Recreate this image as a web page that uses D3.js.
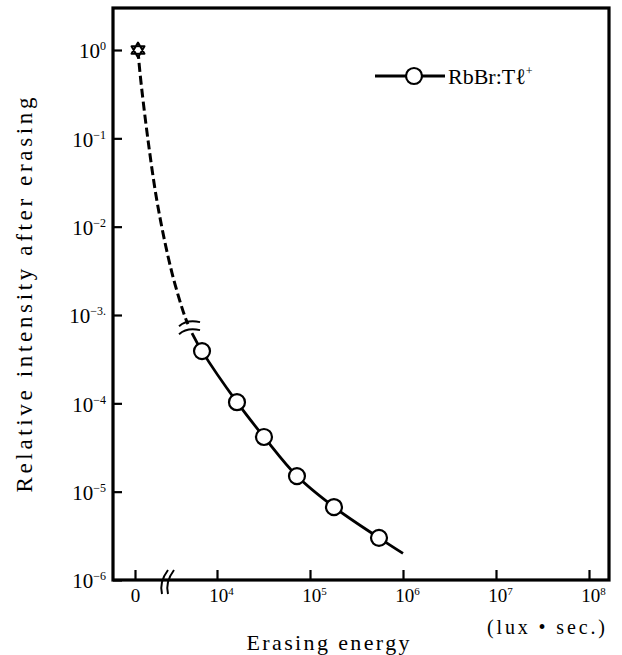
<!DOCTYPE html>
<html><head><meta charset="utf-8">
<script src="https://cdn.jsdelivr.net/npm/d3@7"></script>
<style>body{margin:0;background:#fff}svg{display:block}</style>
</head><body>
<svg id="c" width="622" height="655"></svg>
<script>
// ---- data ----
const yTickExps = [0, -1, -2, -3, -4, -5, -6];
const xTickExps = [4, 5, 6, 7, 8];
const seriesName = "RbBr:Tℓ";
const seriesCharge = "+";
// measured points (open circles)
const circleE = [6900, 16400, 32000, 72400, 181000, 552000];
const circleI = [3.9e-4, 1.03e-4, 4.16e-5, 1.5e-5, 6.7e-6, 3.0e-6];
// solid fitted curve (after the break)
const solidE = [5380, 6900, 16400, 32000, 72400, 181000, 552000, 1000000];
const solidI = [6.25e-4, 3.9e-4, 1.03e-4, 4.16e-5, 1.5e-5, 6.7e-6, 3.0e-6, 2.0e-6];
// dashed extrapolation from the unerased start
const dashE = [268, 446, 1160, 2053, 3280, 4530, 4870];
const dashI = [1, 0.55, 0.096, 0.0167, 0.0030, 9.5e-4, 7.9e-4];
const startE = 268, startI = 1;
const breakE = 5130, breakI = 7.1e-4;

// ---- layout ----
const L = 113, T = 8, R = 609, B = 580;
const svg = d3.select("#c");
const serif = "'Liberation Serif','Times New Roman',serif";

const xLog = d3.scaleLog().domain([1e4, 1e8]).range([217, 589]);
const Eb = xLog.invert(170);
const xLin = d3.scaleLinear().domain([0, Eb]).range([135, 170]);
const x = e => (e <= Eb ? xLin(e) : xLog(e));
const y = d3.scaleLog().domain([1e-6, 1]).range([B, 50]);

const expStr = e => (e < 0 ? "−" + (-e) : String(e));

// ---- y axis ----
const gy = svg.append("g").attr("transform", `translate(${L},0)`)
  .style("font-family", serif).style("font-size", "21px")
  .call(d3.axisLeft(y).tickValues(yTickExps.map(e => Math.pow(10, e)))
    .tickSize(-9).tickPadding(7).tickFormat(""));
gy.select(".domain").remove();
gy.selectAll(".tick line").attr("stroke", "#000").attr("stroke-width", 2.2);
gy.selectAll(".tick text").attr("fill", "#000").attr("dy", "0.38em").each(function (d) {
  const e = Math.round(Math.log10(d));
  const t = d3.select(this);
  t.append("tspan").text("10");
  t.append("tspan").attr("font-size", "12px").attr("dy", "-8").text(expStr(e) + (e === -3 ? "." : ""));
});

// ---- x axis ----
function styleX(g) {
  g.select(".domain").remove();
  g.selectAll(".tick line").attr("stroke", "#000").attr("stroke-width", 2.2);
  g.selectAll(".tick text").attr("fill", "#000");
}
const gx = svg.append("g").attr("transform", `translate(0,${B})`)
  .style("font-family", serif).style("font-size", "19px")
  .call(d3.axisBottom(xLog).tickValues(xTickExps.map(e => Math.pow(10, e)))
    .tickSize(-10).tickPadding(9).tickFormat(""));
styleX(gx);
gx.selectAll(".tick text").each(function (d) {
  const e = Math.round(Math.log10(d));
  const t = d3.select(this).attr("dx", "4");
  t.append("tspan").text("10");
  t.append("tspan").attr("font-size", "11px").attr("dy", "-7").text(expStr(e));
});
const gx0 = svg.append("g").attr("transform", `translate(0,${B})`)
  .style("font-family", serif).style("font-size", "19px")
  .call(d3.axisBottom(xLin).tickValues([0]).tickSize(-10).tickPadding(9).tickFormat(d3.format("d")));
styleX(gx0);

// x-axis break mark
const bx = xLin(Eb);
[-3, 3].forEach(o => {
  svg.append("path")
    .attr("d", `M${bx + o - 5},${B + 14} Q${bx + o - 8},${B + 2} ${bx + o + 1},${B - 10}`)
    .attr("fill", "none").attr("stroke", "#000").attr("stroke-width", 2);
});

// ---- frame ----
svg.append("rect").attr("x", L).attr("y", T).attr("width", R - L).attr("height", B - T)
  .attr("fill", "none").attr("stroke", "#000").attr("stroke-width", 3.2);

// ---- curves ----
const line = d3.line().x(d => x(d[0])).y(d => y(d[1])).curve(d3.curveCatmullRom.alpha(0.5));
svg.append("path").datum(dashE.map((e, i) => [e, dashI[i]]))
  .attr("d", line).attr("fill", "none").attr("stroke", "#000")
  .attr("stroke-width", 3).attr("stroke-dasharray", "9,4");
svg.append("path").datum(solidE.map((e, i) => [e, solidI[i]]))
  .attr("d", line).attr("fill", "none").attr("stroke", "#000").attr("stroke-width", 2.8);

// curve break mark
const cbx = x(breakE), cby = y(breakI);
[-4, 4].forEach(o => {
  svg.append("path")
    .attr("d", `M${cbx - 11},${cby + o + 2} Q${cbx - 3},${cby + o - 5} ${cbx + 10},${cby + o - 2}`)
    .attr("fill", "none").attr("stroke", "#000").attr("stroke-width", 2);
});

// circles
svg.append("g").selectAll("circle").data(circleE.map((e, i) => [e, circleI[i]])).join("circle")
  .attr("cx", d => x(d[0])).attr("cy", d => y(d[1])).attr("r", 8)
  .attr("fill", "#fff").attr("stroke", "#000").attr("stroke-width", 2.2);

// start star (hexagram, open centre)
const sx = x(startE), sy = y(startI), sr = 7.5;
const tri = a => d3.range(3).map(k => {
  const ang = a + k * 2 * Math.PI / 3;
  return [sx + sr * Math.cos(ang), sy + sr * Math.sin(ang)];
});
const starPath = [-Math.PI / 2, Math.PI / 2].map(a => "M" + tri(a).join("L") + "Z").join("");
svg.append("path").attr("d", starPath)
  .attr("fill", "#fff").attr("stroke", "#000").attr("stroke-width", 2).attr("stroke-linejoin", "round");
svg.append("circle").attr("cx", sx).attr("cy", sy).attr("r", 2.4).attr("fill", "#fff");

// ---- legend ----
const ly = 76;
svg.append("line").attr("x1", 375).attr("x2", 445).attr("y1", ly).attr("y2", ly)
  .attr("stroke", "#000").attr("stroke-width", 3);
svg.append("circle").attr("cx", 414).attr("cy", ly).attr("r", 8)
  .attr("fill", "#fff").attr("stroke", "#000").attr("stroke-width", 2.2);
const lt = svg.append("text").attr("x", 448).attr("y", ly + 8)
  .style("font-family", serif).style("font-size", "22px").attr("fill", "#000");
lt.append("tspan").text(seriesName);
lt.append("tspan").attr("font-size", "12px").attr("dy", "-9").text(seriesCharge);

// ---- titles ----
svg.append("text").attr("transform", "translate(32,295) rotate(-90)")
  .attr("text-anchor", "middle").style("font-family", serif).style("font-size", "23px")
  .attr("textLength", 395).attr("lengthAdjust", "spacing")
  .text("Relative intensity after erasing");
svg.append("text").attr("x", 328).attr("y", 650).attr("text-anchor", "middle")
  .style("font-family", serif).style("font-size", "22px")
  .attr("textLength", 163).attr("lengthAdjust", "spacing")
  .text("Erasing energy");
svg.append("text").attr("x", 546).attr("y", 634).attr("text-anchor", "middle")
  .style("font-family", serif).style("font-size", "20px")
  .attr("textLength", 118).attr("lengthAdjust", "spacing")
  .text("(lux • sec.)");
</script>
</body></html>
